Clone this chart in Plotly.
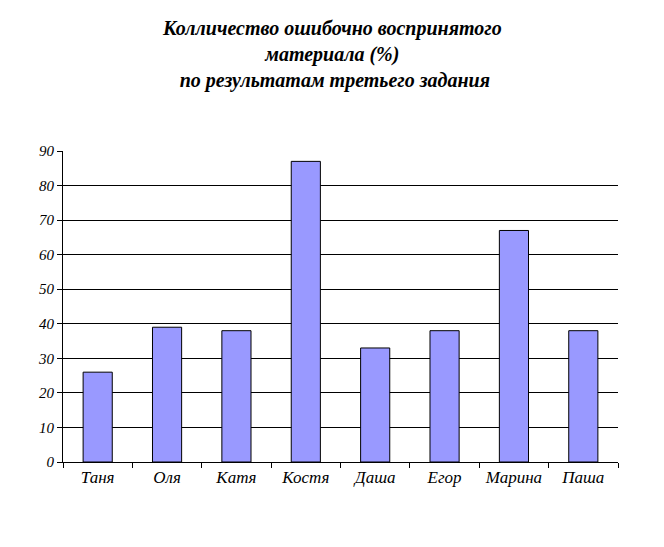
import plotly.graph_objects as go

# data
names = ["Таня", "Оля", "Катя", "Костя", "Даша", "Егор", "Марина", "Паша"]
errors_pct = [26, 39, 38, 87, 33, 38, 67, 38]
y_ticks = [0, 10, 20, 30, 40, 50, 60, 70, 80, 90]

title_text = ("<b><i>Колличество ошибочно воспринятого<br>"
              "материала (%)<br>"
              " по результатам третьего задания</i></b>")

fig = go.Figure()
fig.add_trace(go.Bar(
    x=names,
    y=errors_pct,
    marker=dict(color="#9999FF", line=dict(color="black", width=1)),
))

# page body has an 8px margin, so the figure is a bit smaller than the window
fig.update_layout(
    width=648,
    height=531,
    paper_bgcolor="white",
    plot_bgcolor="white",
    margin=dict(l=55, r=38, t=143, b=77),
    bargap=0.58,
    showlegend=False,
    font=dict(family="Liberation Serif", color="black", size=15),
)

# title as a paper annotation, centred on the page rather than the plot
fig.add_annotation(
    text=title_text,
    xref="paper", yref="paper",
    x=0.485, xanchor="center",
    y=1.436, yanchor="top",
    showarrow=False,
    align="center",
    font=dict(family="Liberation Serif", size=20, color="black"),
)

fig.update_xaxes(
    showline=True, linecolor="black", linewidth=1,
    ticks="outside", tickson="boundaries", ticklen=5, tickcolor="black",
    showgrid=False,
    tickfont=dict(family="Liberation Serif", size=17, style="italic"),
)
fig.update_yaxes(
    range=[0, 90],
    tickvals=y_ticks,
    showline=True, linecolor="black", linewidth=1,
    ticks="outside", ticklen=5, tickcolor="black",
    showgrid=True, gridcolor="black", gridwidth=1,
    zeroline=False,
    tickfont=dict(family="Liberation Serif", size=15, style="italic"),
)

fig.write_html("out.html")
